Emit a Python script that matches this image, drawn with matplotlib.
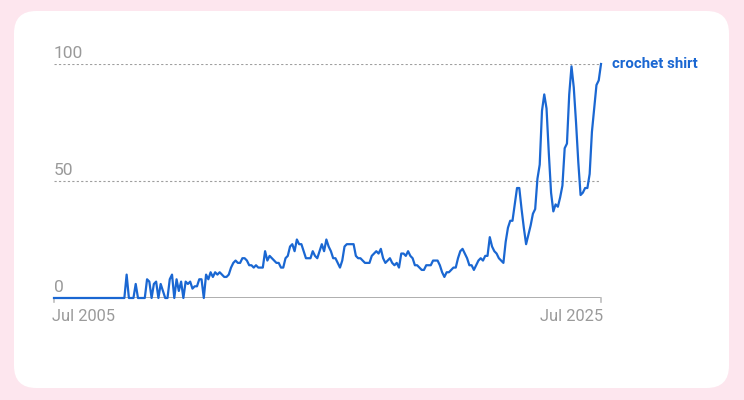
import matplotlib
matplotlib.use("Agg")
import matplotlib.pyplot as plt
from matplotlib.patches import FancyBboxPatch
import numpy as np

series_name = "crochet shirt"
x_tick_labels = ["Jul 2005", "Jul 2025"]
y_ticks = [0, 50, 100]

values = [
    0, 0, 0, 0, 0, 0, 0, 0, 0, 0, 0, 0, 0, 0, 0, 0,
    0, 0, 0, 0, 0, 0, 0, 0, 0, 0, 0, 0, 0, 0, 0, 0,
    10, 0, 0, 0, 6, 0, 0, 0, 0, 8, 7, 0, 6, 7, 0, 6,
    3, 0, 0, 8, 10, 0, 8, 3, 7, 0, 7, 6, 7, 4, 5, 5,
    8, 8, 0, 10, 8, 11, 9, 11, 10, 11, 10, 9, 9, 10, 13, 15,
    16, 15, 15, 17, 17, 16, 14, 14, 13, 14, 13, 13, 13, 20, 16, 18,
    17, 16, 15, 15, 13, 13, 17, 18, 22, 23, 20, 25, 23, 23, 20, 17,
    17, 17, 20, 18, 17, 20, 23, 20, 25, 22, 20, 17, 17, 15, 13, 16,
    22, 23, 23, 23, 23, 18, 17, 17, 16, 15, 15, 15, 18, 19, 20, 19,
    21, 17, 15, 16, 17, 15, 14, 15, 13, 19, 19, 18, 20, 18, 17, 14,
    14, 13, 12, 12, 14, 14, 14, 16, 16, 16, 14, 11, 9, 11, 11, 12,
    13, 13, 17, 20, 21, 19, 17, 14, 14, 12, 14, 16, 17, 16, 18, 18,
    26, 22, 20, 19, 17, 16, 15, 24, 30, 33, 33, 40, 47, 47, 38, 30,
    23, 27, 31, 36, 38, 51, 57, 80, 87, 81, 62, 45, 37, 40, 39, 43,
    48, 64, 66, 87, 99, 90, 75, 58, 44, 45, 47, 47, 53, 71, 81, 91,
    93, 100,
]

W, H = 744, 400
fig = plt.figure(figsize=(W / 100, H / 100), dpi=100)
fig.patch.set_facecolor("#fde6ee")

# white rounded card
card = FancyBboxPatch((14 / W, 12 / H), (729 - 14) / W, (389 - 12) / H,
                      boxstyle="round,pad=0,rounding_size=0.03",
                      transform=fig.transFigure, facecolor="white",
                      edgecolor="none", mutation_aspect=W / H, zorder=-10)
fig.patches.append(card)

left, right = 54, 601
y0, y100 = 298, 64
ax = fig.add_axes([left / W, (H - y0) / H, (right - left) / W, (y0 - y100) / H])
ax.set_facecolor("none")
ax.set_zorder(5)

n = len(values)
xs = np.arange(n)
ax.plot(xs, values, color="#1a67d2", lw=1.6, clip_on=False, zorder=3,
        solid_joinstyle="round")

ax.set_xlim(0, n - 1)
ax.set_ylim(0, 100)

for s in ax.spines.values():
    s.set_visible(False)
ax.set_xticks([])
ax.set_yticks([])

# gridlines
for v in [50, 100]:
    ax.axhline(v, color="#9e9e9e", lw=0.8, ls=(0, (2, 2)), zorder=1)
ax.axhline(0, color="#999999", lw=1.1, zorder=2)

# small end ticks
for xv in [0, n - 1]:
    ax.plot([xv, xv], [0, -1.8], color="#bdbdbd", lw=1.2, clip_on=False)

font = "Roboto"
for v in y_ticks:
    ax.text(0, v + 1.4, str(v), ha="left", va="bottom", fontsize=12.5,
            color="#9a9a9a", family=font)

ax.text(-0.8, -4.8, x_tick_labels[0], ha="left", va="top", fontsize=11.8,
        color="#9a9a9a", family=font)
ax.text(n - 0.2, -4.8, x_tick_labels[1], ha="right", va="top", fontsize=11.8,
        color="#9a9a9a", family=font)

ax.text(n - 1 + 5, 100, series_name, ha="left", va="center", fontsize=10.8,
        color="#1a67d2", family=font, fontweight="semibold")

fig.savefig("out.png", dpi=100, facecolor=fig.get_facecolor())
